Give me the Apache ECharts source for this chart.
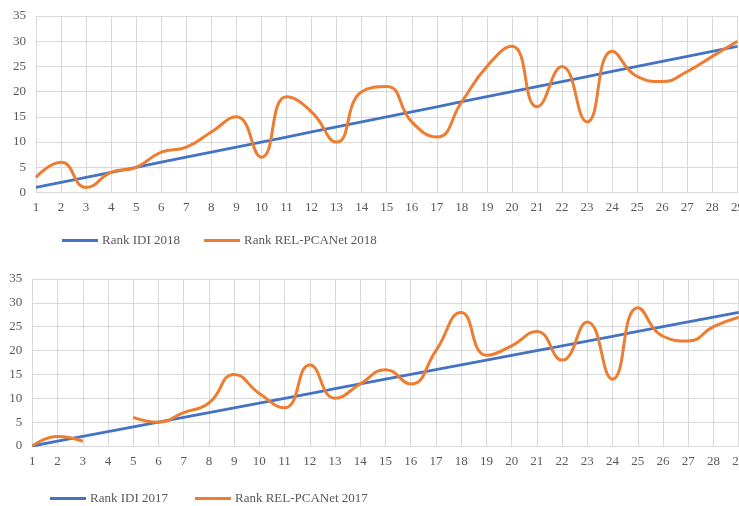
<!DOCTYPE html>
<html>
<head>
<meta charset="utf-8">
<script src="https://cdn.jsdelivr.net/npm/echarts@6/dist/echarts.min.js"></script>
<style>
  html, body { margin: 0; padding: 0; background: #fff; }
  #chart { width: 739px; height: 506px; }
</style>
</head>
<body>
<div id="chart"></div>
<script>
// categories 1..29 shared by both charts
var categories = ['1','2','3','4','5','6','7','8','9','10','11','12','13','14','15',
                  '16','17','18','19','20','21','22','23','24','25','26','27','28','29'];
var yTicks = [0, 5, 10, 15, 20, 25, 30, 35];

// 2018 chart
var idi2018 = [1,2,3,4,5,6,7,8,9,10,11,12,13,14,15,16,17,18,19,20,21,22,23,24,25,26,27,28,29];
var rel2018 = [3,6,1,4,5,8,9,12,15,7,19,16,10,20,21,14,11,18,25,29,17,25,14,28,23,22,24,27,30];

// 2017 chart (no value at rank 4)
var idi2017 = [0,1,2,3,4,5,6,7,8,9,10,11,12,13,14,15,16,17,18,19,20,21,22,23,24,25,26,27,28];
var rel2017 = [0,2,1,null,6,5,7,9,15,11,8,17,10,13,16,13,20,28,19,21,24,18,26,14,29,23,22,25,27];

var blue = '#4472C4';
var orange = '#ED7D31';
var txt = '#595959';
var gridCol = '#d9d9d9';
var font = '"Liberation Serif", "Times New Roman", serif';

var chart = echarts.init(document.getElementById('chart'));

function xAx(idx) {
    return {
        type: 'category', gridIndex: idx, data: categories, boundaryGap: false,
        axisLine: { lineStyle: { color: gridCol, width: 1 } },
        axisTick: { show: false },
        axisLabel: { color: txt, fontFamily: font, fontSize: 13, margin: 9, interval: 0 },
        splitLine: { show: true, lineStyle: { color: gridCol, width: 1 } }
    };
}
function yAx(idx) {
    return {
        type: 'value', gridIndex: idx, min: yTicks[0], max: yTicks[yTicks.length - 1], interval: 5,
        axisLine: { show: false },
        axisTick: { show: false },
        axisLabel: { color: txt, fontFamily: font, fontSize: 13, margin: 10 },
        splitLine: { lineStyle: { color: gridCol, width: 1 } }
    };
}

var option = {
    animation: false,
    backgroundColor: '#fff',
    grid: [
        { left: 36, right: 1.6, top: 16, bottom: 313.5, outerBoundsMode: 'none', containLabel: false },
        { left: 32.3, right: 0.3, top: 279, bottom: 60, outerBoundsMode: 'none', containLabel: false }
    ],
    xAxis: [xAx(0), xAx(1)],
    yAxis: [yAx(0), yAx(1)],
    legend: [
        {
            left: 57, top: 229, icon: 'rect', itemWidth: 36, itemHeight: 3, itemGap: 24,
            textStyle: { color: txt, fontFamily: font, fontSize: 13, padding: [0, 0, 0, -1] },
            data: ['Rank IDI 2018', 'Rank REL-PCANet 2018']
        },
        {
            left: 45, top: 487, icon: 'rect', itemWidth: 36, itemHeight: 3, itemGap: 27,
            textStyle: { color: txt, fontFamily: font, fontSize: 13, padding: [0, 0, 0, -1] },
            data: ['Rank IDI 2017', 'Rank REL-PCANet 2017']
        }
    ],
    series: [
        {
            name: 'Rank IDI 2018', type: 'line', xAxisIndex: 0, yAxisIndex: 0,
            data: idi2018, symbol: 'none', color: blue,
            lineStyle: { color: blue, width: 2.8 }
        },
        {
            name: 'Rank REL-PCANet 2018', type: 'line', xAxisIndex: 0, yAxisIndex: 0,
            data: rel2018, symbol: 'none', smooth: 0.5, color: orange,
            lineStyle: { color: orange, width: 3 }
        },
        {
            name: 'Rank IDI 2017', type: 'line', xAxisIndex: 1, yAxisIndex: 1,
            data: idi2017, symbol: 'none', color: blue,
            lineStyle: { color: blue, width: 2.8 }
        },
        {
            name: 'Rank REL-PCANet 2017', type: 'line', xAxisIndex: 1, yAxisIndex: 1,
            data: rel2017, symbol: 'none', smooth: 0.5, connectNulls: false, color: orange,
            lineStyle: { color: orange, width: 3 }
        }
    ]
};

chart.setOption(option);
</script>
</body>
</html>
